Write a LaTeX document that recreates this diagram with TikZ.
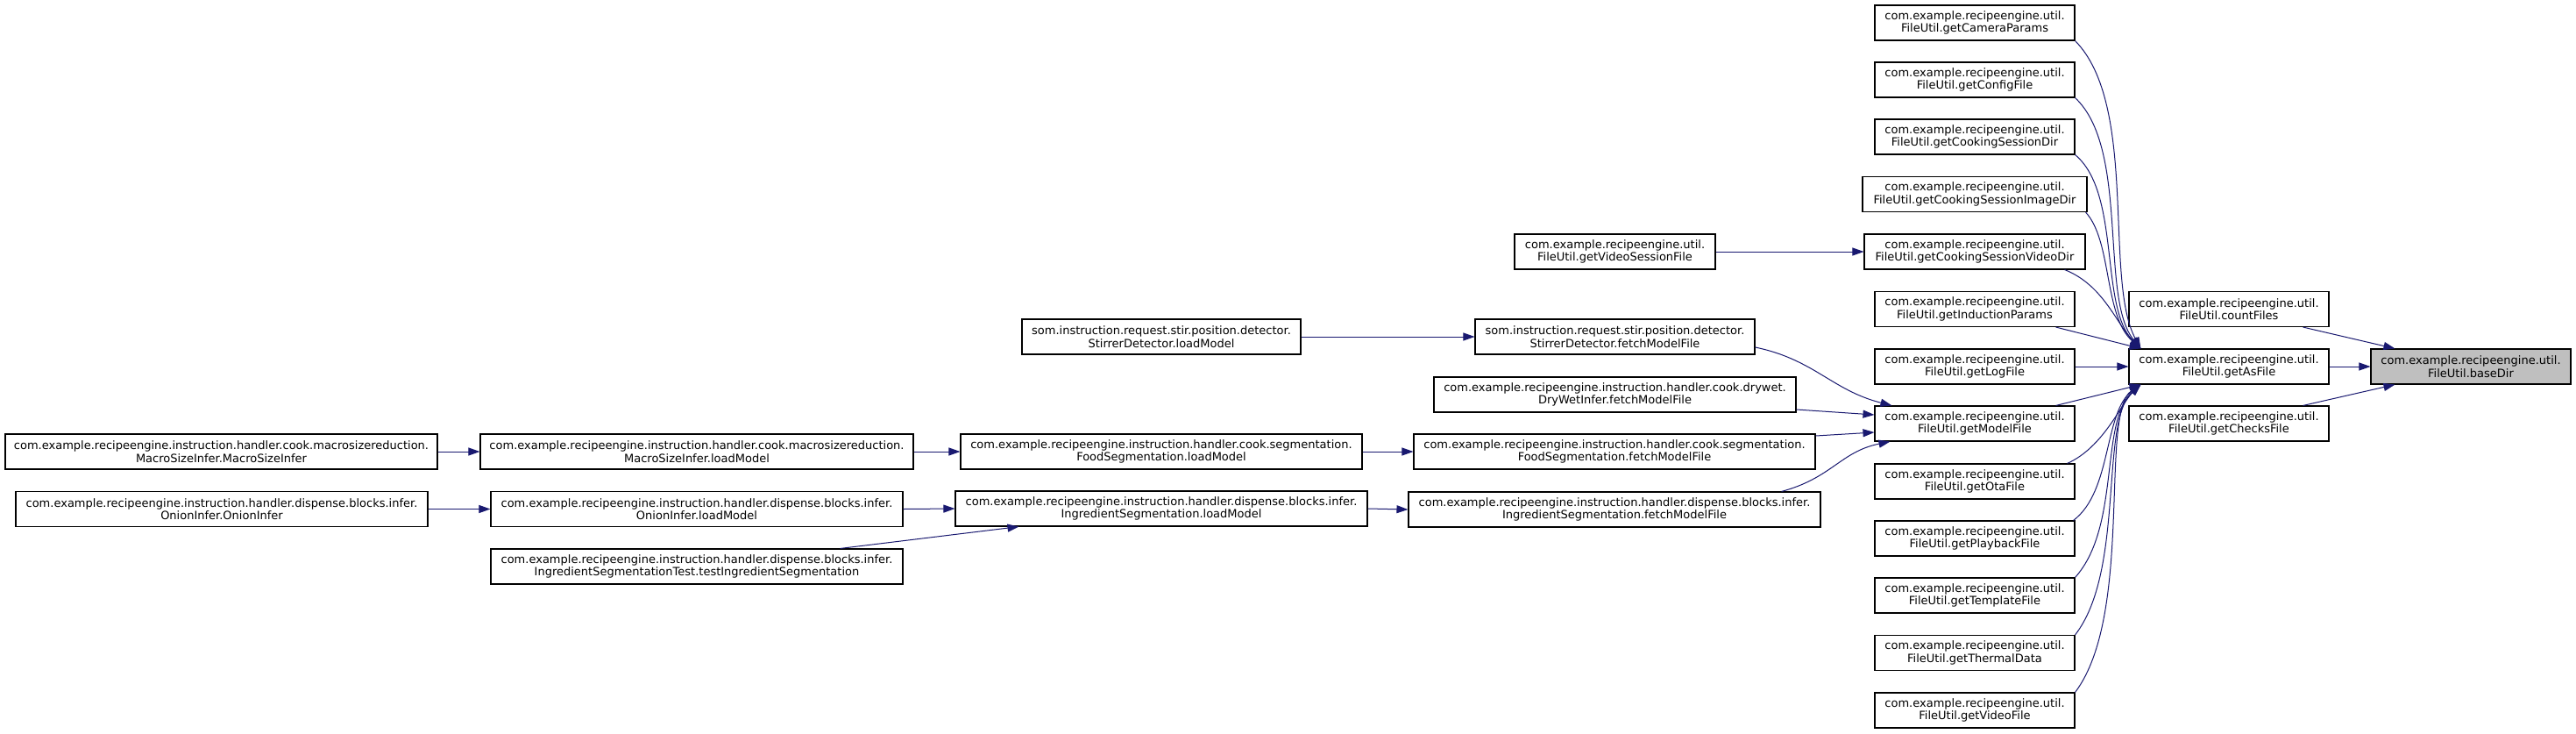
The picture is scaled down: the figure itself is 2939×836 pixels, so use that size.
\documentclass[tikz,border=0pt]{standalone}
\usepackage{fontspec}
\setmainfont{DejaVu Sans}
\usetikzlibrary{arrows.meta}
\definecolor{edgeblue}{HTML}{191970}
\definecolor{rootgray}{HTML}{BFBFBF}
\tikzset{
  box/.style={draw=black, line width=1.1pt, fill=white, minimum height=40pt, inner sep=0pt, align=center,
    font=\fontsize{13}{14.5}\selectfont},
  rootbox/.style={box, fill=rootgray},
  edge/.style={draw=edgeblue, line width=1pt, -{Triangle[length=13pt,width=9pt]}},
}
\begin{document}
\begin{tikzpicture}[x=1pt,y=-1pt]
\useasboundingbox[fill=white] (0,0) rectangle (2939,836);
% right column
\node[rootbox, minimum width=228] (base) at (2819,418) {com.example.recipeengine.util.\\FileUtil.baseDir};
\node[box, minimum width=228] (cnt) at (2543,352.5) {com.example.recipeengine.util.\\FileUtil.countFiles};
\node[box, minimum width=228] (asf) at (2543,418) {com.example.recipeengine.util.\\FileUtil.getAsFile};
\node[box, minimum width=228] (chk) at (2543,483) {com.example.recipeengine.util.\\FileUtil.getChecksFile};
% FileUtil column
\node[box, minimum width=228] (cam) at (2253,26) {com.example.recipeengine.util.\\FileUtil.getCameraParams};
\node[box, minimum width=228] (cfg) at (2253,91) {com.example.recipeengine.util.\\FileUtil.getConfigFile};
\node[box, minimum width=228] (csd) at (2253,156) {com.example.recipeengine.util.\\FileUtil.getCookingSessionDir};
\node[box, minimum width=256] (csi) at (2253,221.5) {com.example.recipeengine.util.\\FileUtil.getCookingSessionImageDir};
\node[box, minimum width=252] (csv) at (2253,287) {com.example.recipeengine.util.\\FileUtil.getCookingSessionVideoDir};
\node[box, minimum width=228] (ind) at (2253,352.5) {com.example.recipeengine.util.\\FileUtil.getInductionParams};
\node[box, minimum width=228] (log) at (2253,418) {com.example.recipeengine.util.\\FileUtil.getLogFile};
\node[box, minimum width=228] (mdl) at (2253,483) {com.example.recipeengine.util.\\FileUtil.getModelFile};
\node[box, minimum width=228] (ota) at (2253,549) {com.example.recipeengine.util.\\FileUtil.getOtaFile};
\node[box, minimum width=228] (pb) at (2253,614) {com.example.recipeengine.util.\\FileUtil.getPlaybackFile};
\node[box, minimum width=228] (tpl) at (2253,679) {com.example.recipeengine.util.\\FileUtil.getTemplateFile};
\node[box, minimum width=228] (thm) at (2253,744.5) {com.example.recipeengine.util.\\FileUtil.getThermalData};
\node[box, minimum width=228] (vid) at (2253,810) {com.example.recipeengine.util.\\FileUtil.getVideoFile};
% fetch column
\node[box, minimum width=229] (vsf) at (1842.5,287) {com.example.recipeengine.util.\\FileUtil.getVideoSessionFile};
\node[box, minimum width=319] (sdf) at (1842.5,384) {som.instruction.request.stir.position.detector.\\StirrerDetector.fetchModelFile};
\node[box, minimum width=413] (dwf) at (1842.5,450) {com.example.recipeengine.instruction.handler.cook.drywet.\\DryWetInfer.fetchModelFile};
\node[box, minimum width=458] (fsf) at (1842,515) {com.example.recipeengine.instruction.handler.cook.segmentation.\\FoodSegmentation.fetchModelFile};
\node[box, minimum width=470] (isf) at (1842,581) {com.example.recipeengine.instruction.handler.dispense.blocks.infer.\\IngredientSegmentation.fetchModelFile};
% loadModel column
\node[box, minimum width=318] (sdl) at (1325,384) {som.instruction.request.stir.position.detector.\\StirrerDetector.loadModel};
\node[box, minimum width=458] (fsl) at (1325,515) {com.example.recipeengine.instruction.handler.cook.segmentation.\\FoodSegmentation.loadModel};
\node[box, minimum width=470] (isl) at (1325,580) {com.example.recipeengine.instruction.handler.dispense.blocks.infer.\\IngredientSegmentation.loadModel};
% left columns
\node[box, minimum width=494] (msl) at (795,515) {com.example.recipeengine.instruction.handler.cook.macrosizereduction.\\MacroSizeInfer.loadModel};
\node[box, minimum width=470] (oil) at (795,580.5) {com.example.recipeengine.instruction.handler.dispense.blocks.infer.\\OnionInfer.loadModel};
\node[box, minimum width=470] (tis) at (795,646) {com.example.recipeengine.instruction.handler.dispense.blocks.infer.\\IngredientSegmentationTest.testIngredientSegmentation};
\node[box, minimum width=493] (msm) at (252.5,515) {com.example.recipeengine.instruction.handler.cook.macrosizereduction.\\MacroSizeInfer.MacroSizeInfer};
\node[box, minimum width=470] (oio) at (253,580.5) {com.example.recipeengine.instruction.handler.dispense.blocks.infer.\\OnionInfer.OnionInfer};
% edges into baseDir
\draw[edge] ([xshift=-30pt]cnt.south east) -- ([xshift=28pt]base.north west);
\draw[edge] (asf.east) -- (base.west);
\draw[edge] ([xshift=-30pt]chk.north east) -- ([xshift=28pt]base.south west);
% edges into getAsFile
\draw[edge] (cam.south east) .. controls (2440,120) and (2400,320) .. ([xshift=14pt]asf.north west);
\draw[edge] (cfg.south east) .. controls (2430,170) and (2395,340) .. ([xshift=14pt]asf.north west);
\draw[edge] (csd.south east) .. controls (2420,220) and (2395,350) .. ([xshift=14pt]asf.north west);
\draw[edge] ([xshift=-2pt]csi.south east) .. controls (2410,275) and (2400,360) .. ([xshift=14pt]asf.north west);
\draw[edge] ([xshift=-24pt]csv.south east) .. controls (2400,325) and (2415,370) .. ([xshift=14pt]asf.north west);
\draw[edge] ([xshift=-22pt]ind.south east) -- ([xshift=14pt]asf.north west);
\draw[edge] (log.east) -- (asf.west);
\draw[edge] ([xshift=-22pt]mdl.north east) -- ([xshift=14pt]asf.south west);
\draw[edge] ([xshift=-9pt]ota.north east) .. controls (2400,510) and (2420,460) .. ([xshift=14pt]asf.south west);
\draw[edge] ([xshift=-2pt]pb.north east) .. controls (2410,560) and (2400,470) .. ([xshift=14pt]asf.south west);
\draw[edge] (tpl.north east) .. controls (2420,600) and (2395,480) .. ([xshift=14pt]asf.south west);
\draw[edge] (thm.north east) .. controls (2425,650) and (2395,480) .. ([xshift=14pt]asf.south west);
\draw[edge] (vid.north east) .. controls (2435,700) and (2395,470) .. ([xshift=14pt]asf.south west);
% edges into getCookingSessionVideoDir and getModelFile
\draw[edge] (vsf.east) -- (csv.west);
\draw[edge] ([yshift=-12pt]sdf.east) .. controls (2070,410) and (2090,445) .. ([xshift=20pt]mdl.north west);
\draw[edge] ([yshift=-17pt]dwf.east) -- ([yshift=10pt]mdl.west);
\draw[edge] ([yshift=18pt]fsf.east) -- ([yshift=-10pt]mdl.west);
\draw[edge] ([xshift=-45pt]isf.north east) .. controls (2090,545) and (2100,515) .. ([xshift=18pt]mdl.south west);
% loadModel edges
\draw[edge] (sdl.east) -- (sdf.west);
\draw[edge] (fsl.east) -- (fsf.west);
\draw[edge] (isl.east) -- (isf.west);
\draw[edge] (msl.east) -- (fsl.west);
\draw[edge] (msm.east) -- (msl.west);
\draw[edge] (oil.east) -- (isl.west);
\draw[edge] (oio.east) -- (oil.west);
\draw[edge] ([xshift=-72pt]tis.north east) -- ([xshift=73pt]isl.south west);
\end{tikzpicture}
\end{document}
